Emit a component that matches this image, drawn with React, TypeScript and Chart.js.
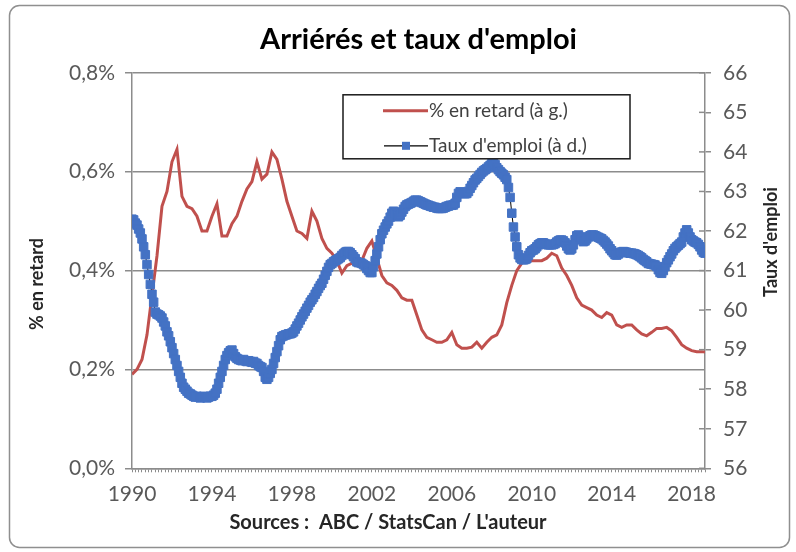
import React, { useEffect, useRef } from 'react';
import { Chart, registerables } from 'chart.js';

Chart.register(...registerables);

const FONT = "Lato, 'Liberation Sans', sans-serif";

const TITLE = "Arriérés et taux d'emploi";
const X_TITLE = "Sources :  ABC / StatsCan / L'auteur";
const LEFT_TITLE = '% en retard';
const RIGHT_TITLE = "Taux d'emploi";
const SERIES_RETARD = '% en retard (à g.)';
const SERIES_EMPLOI = "Taux d'emploi (à d.)";

const START_YEAR = 1990;
const END_YEAR = 2018;
const LAST_MONTH_INDEX = 8; // September 2018

const xLabelYears = [1990, 1994, 1998, 2002, 2006, 2010, 2014, 2018];
const leftTicks = [0, 0.2, 0.4, 0.6, 0.8];
const rightTicks = [56, 57, 58, 59, 60, 61, 62, 63, 64, 65, 66];

// % en retard, quarterly (Jan, Apr, Jul, Oct); last value = Sep 2018
const retardValues = [
  0.19, 0.2, 0.22, 0.27,
  0.35, 0.43, 0.53, 0.56,
  0.62, 0.645, 0.55, 0.53,
  0.525, 0.51, 0.48, 0.48,
  0.51, 0.535, 0.47, 0.47,
  0.495, 0.51, 0.54, 0.565,
  0.58, 0.62, 0.585, 0.595,
  0.64, 0.625, 0.585, 0.54,
  0.51, 0.48, 0.475, 0.465,
  0.52, 0.5, 0.465, 0.445,
  0.435, 0.42, 0.395, 0.41,
  0.415, 0.415, 0.42, 0.445,
  0.46, 0.425, 0.39, 0.375,
  0.37, 0.36, 0.345, 0.34,
  0.34, 0.31, 0.28, 0.265,
  0.26, 0.255, 0.255, 0.26,
  0.275, 0.25, 0.243, 0.243,
  0.245, 0.255, 0.243, 0.255,
  0.265, 0.27, 0.29, 0.335,
  0.37, 0.4, 0.415, 0.42,
  0.42, 0.42, 0.42, 0.425,
  0.435, 0.43, 0.405, 0.39,
  0.37, 0.345, 0.33, 0.325,
  0.32, 0.31, 0.305, 0.315,
  0.31, 0.29, 0.285, 0.29,
  0.29, 0.28, 0.272, 0.268,
  0.275, 0.283, 0.283, 0.285,
  0.278, 0.265, 0.25, 0.243,
  0.238, 0.236, 0.236, 0.235,
];

// Taux d'emploi, monthly (Jan 1990 .. Sep 2018)
const emploiValues = [
  62.3, 62.28, 62.2, 62.15, 62.05, 61.95, 61.8, 61.6, 61.4, 61.15, 60.9, 60.65,
  60.4, 60.2, 59.95, 59.9, 59.88, 59.85, 59.8, 59.7, 59.6, 59.45, 59.35, 59.2,
  59.05, 58.9, 58.75, 58.6, 58.45, 58.3, 58.15, 58.05, 58.0, 57.95, 57.9, 57.88,
  57.85, 57.82, 57.8, 57.82, 57.8, 57.78, 57.8, 57.82, 57.8, 57.78, 57.8, 57.82,
  57.82, 57.85, 57.9, 58.0, 58.15, 58.3, 58.45, 58.6, 58.75, 58.85, 58.92, 58.97,
  58.99, 58.9, 58.82, 58.78, 58.75, 58.74, 58.72, 58.75, 58.72, 58.7, 58.72, 58.7,
  58.68, 58.7, 58.66, 58.65, 58.6, 58.57, 58.55, 58.45, 58.3, 58.25, 58.3, 58.4,
  58.5, 58.65, 58.8, 58.95, 59.1, 59.25, 59.33, 59.35, 59.37, 59.38, 59.4, 59.4,
  59.42, 59.45, 59.52, 59.6, 59.67, 59.75, 59.83, 59.9, 59.97, 60.05, 60.12, 60.2,
  60.26, 60.32, 60.4, 60.47, 60.55, 60.62, 60.68, 60.78, 60.88, 60.98, 61.08, 61.15,
  61.18, 61.22, 61.25, 61.27, 61.3, 61.33, 61.38, 61.42, 61.46, 61.48, 61.48, 61.45,
  61.4, 61.35, 61.3, 61.22, 61.2, 61.2, 61.18, 61.15, 61.12, 61.05, 61.0, 60.95,
  60.95, 61.1, 61.25, 61.42, 61.6, 61.78, 61.93, 62.02, 62.1, 62.18, 62.25, 62.35,
  62.45, 62.5, 62.45, 62.4, 62.36, 62.4, 62.48, 62.55, 62.62, 62.66, 62.68, 62.7,
  62.72, 62.75, 62.78, 62.78, 62.76, 62.74, 62.72, 62.7, 62.68, 62.66, 62.65, 62.63,
  62.62, 62.6, 62.6, 62.58, 62.57, 62.57, 62.57, 62.58, 62.6, 62.62, 62.63, 62.65,
  62.65, 62.66, 62.7, 62.85, 62.95, 62.99, 62.97, 62.95, 62.94, 62.95, 63.0, 63.08,
  63.15, 63.22, 63.29, 63.33, 63.38, 63.43, 63.48, 63.52, 63.55, 63.58, 63.62, 63.66,
  63.7, 63.72, 63.68, 63.6, 63.55, 63.5, 63.46, 63.42, 63.36, 63.3, 63.1, 62.85,
  62.45, 62.1, 61.85, 61.6, 61.4, 61.32, 61.28, 61.27, 61.28, 61.3, 61.38, 61.45,
  61.5, 61.52, 61.55, 61.6, 61.65, 61.68, 61.7, 61.7, 61.68, 61.66, 61.65, 61.65,
  61.65, 61.66, 61.68, 61.72, 61.75, 61.77, 61.77, 61.75, 61.7, 61.62, 61.55, 61.52,
  61.55, 61.65, 61.78, 61.88, 61.9, 61.85, 61.78, 61.73, 61.75, 61.8, 61.85, 61.88,
  61.9, 61.9, 61.88, 61.86, 61.84, 61.82, 61.8, 61.76, 61.72, 61.67, 61.62, 61.55,
  61.5, 61.45, 61.4, 61.39, 61.42, 61.45, 61.47, 61.48, 61.47, 61.46, 61.45, 61.44,
  61.44, 61.43, 61.42, 61.4, 61.38, 61.35, 61.32, 61.28, 61.25, 61.22, 61.18, 61.17,
  61.16, 61.15, 61.14, 61.1, 61.02, 60.95, 60.93, 61.0, 61.1, 61.2, 61.27, 61.35,
  61.42, 61.5, 61.56, 61.6, 61.64, 61.68, 61.72, 61.85, 61.95, 62.03, 61.95, 61.85,
  61.78, 61.75, 61.72, 61.7, 61.66, 61.6, 61.52, 61.46, 61.44,
];

// Monthly date positions (decimal years)
const monthPositions: number[] = [];
for (let y = START_YEAR; y <= END_YEAR; y++) {
  for (let m = 0; m < 12; m++) {
    if (y === END_YEAR && m > LAST_MONTH_INDEX) break;
    monthPositions.push(y + m / 12);
  }
}
const retardPositions: number[] = [];
for (let i = 0; i < monthPositions.length; i += 3) retardPositions.push(monthPositions[i]);
retardPositions.push(monthPositions[monthPositions.length - 1]);

const X_MIN = START_YEAR;
const X_MAX = monthPositions[monthPositions.length - 1];

const RED = '#C0504D';
const BLUE = '#4472C4';
const GRID = '#8c8c8c';
const TICK_TEXT = '#595959';
const TITLE_TEXT = '#262626';

const framePlugin = {
  id: 'frame',
  beforeDraw(chart: any) {
    const ctx = chart.ctx;
    ctx.save();
    ctx.fillStyle = '#ffffff';
    ctx.fillRect(0, 0, chart.width, chart.height);
    ctx.strokeStyle = '#8f8f8f';
    ctx.lineWidth = 1.5;
    ctx.beginPath();
    ctx.roundRect(9.5, 5.5, 780, 542, 10);
    ctx.stroke();
    ctx.restore();
  },
};

const extrasPlugin = {
  id: 'extras',
  afterDraw(chart: any) {
    const ctx = chart.ctx;
    const area = chart.chartArea;
    const y1 = chart.scales.y1;
    ctx.save();
    // inner half of the crossing ticks on the right axis
    ctx.strokeStyle = GRID;
    ctx.lineWidth = 1.5;
    rightTicks.forEach((v) => {
      const py = y1.getPixelForValue(v);
      ctx.beginPath();
      ctx.moveTo(area.right - 6, py);
      ctx.lineTo(area.right, py);
      ctx.stroke();
    });
    ctx.fillStyle = TITLE_TEXT;
    ctx.font = `bold 18px ${FONT}`;
    ctx.textAlign = 'center';
    ctx.textBaseline = 'middle';
    // left axis title
    ctx.save();
    ctx.translate(37, 284);
    ctx.rotate(-Math.PI / 2);
    ctx.fillText(LEFT_TITLE, 0, 0);
    ctx.restore();
    // right axis title
    ctx.save();
    ctx.translate(771, 242);
    ctx.rotate(-Math.PI / 2);
    ctx.fillText(RIGHT_TITLE, 0, 0);
    ctx.restore();
    // x axis title (sources)
    ctx.font = `bold 20px ${FONT}`;
    ctx.fillText(X_TITLE, 388, 523);
    ctx.restore();

    // legend box
    ctx.save();
    const lx = area.left + 211;
    const ly = area.top + 22;
    const lw = 287;
    const lh = 64;
    ctx.fillStyle = '#ffffff';
    ctx.fillRect(lx, ly, lw, lh);
    ctx.strokeStyle = '#1a1a1a';
    ctx.lineWidth = 1.5;
    ctx.strokeRect(lx, ly, lw, lh);
    const row1 = ly + 16;
    const row2 = ly + 51;
    ctx.strokeStyle = RED;
    ctx.lineWidth = 3;
    ctx.beginPath();
    ctx.moveTo(lx + 40, row1);
    ctx.lineTo(lx + 85, row1);
    ctx.stroke();
    ctx.strokeStyle = '#000000';
    ctx.lineWidth = 1.2;
    ctx.beginPath();
    ctx.moveTo(lx + 41, row2);
    ctx.lineTo(lx + 85, row2);
    ctx.stroke();
    ctx.fillStyle = BLUE;
    ctx.fillRect(lx + 59, row2 - 4, 8, 8);
    ctx.fillStyle = '#404040';
    ctx.font = `19px ${FONT}`;
    ctx.textAlign = 'left';
    ctx.textBaseline = 'middle';
    ctx.fillText(SERIES_RETARD, lx + 86, row1);
    ctx.fillText(SERIES_EMPLOI, lx + 86, row2);
    ctx.restore();
  },
};

export default function App() {
  const ref = useRef<HTMLCanvasElement | null>(null);

  useEffect(() => {
    if (!ref.current) return;
    const chart = new Chart(ref.current, {
      type: 'line',
      data: {
        datasets: [
          {
            label: SERIES_EMPLOI,
            data: emploiValues.map((v, i) => ({ x: monthPositions[i], y: v })),
            yAxisID: 'y1',
            borderColor: '#000000',
            borderWidth: 1,
            pointStyle: 'rect',
            pointRadius: 6,
            pointBackgroundColor: BLUE,
            pointBorderColor: BLUE,
            pointBorderWidth: 1,
            order: 0,
          },
          {
            label: SERIES_RETARD,
            data: retardValues.map((v, i) => ({ x: retardPositions[i], y: v })),
            yAxisID: 'y',
            borderColor: RED,
            borderWidth: 3,
            pointRadius: 0,
            order: 1,
          },
        ],
      },
      options: {
        animation: false,
        responsive: false,
        maintainAspectRatio: false,
        layout: { padding: 0 },
        plugins: {
          legend: { display: false },
          tooltip: { enabled: false },
          title: {
            display: true,
            text: TITLE,
            fullSize: false,
            color: '#000000',
            font: { family: FONT, size: 29, weight: 'bold' },
            padding: { top: 22.6, bottom: 15.4 },
          },
        },
        scales: {
          x: {
            type: 'linear',
            min: X_MIN,
            max: X_MAX,
            afterBuildTicks: (scale: any) => {
              const t: any[] = [];
              for (let i = 0; START_YEAR + i / 6 <= X_MAX + 1e-9; i++) t.push({ value: START_YEAR + i / 6 });
              scale.ticks = t;
            },
            afterFit: (scale: any) => {
              scale.height = 83.7;
            },
            ticks: {
              autoSkip: false,
              maxRotation: 0,
              padding: 9,
              color: TICK_TEXT,
              font: { family: FONT, size: 21 },
              callback: (v: any) => {
                const r = Math.round(v);
                return Math.abs(v - r) < 1e-6 && xLabelYears.includes(r) ? String(r) : '';
              },
            },
            grid: { drawOnChartArea: false, drawTicks: true, tickLength: 4, color: GRID, lineWidth: 1 },
            border: { display: true, color: GRID, width: 1.5 },
          },
          y: {
            type: 'linear',
            position: 'left',
            min: 0,
            max: 0.8,
            afterBuildTicks: (scale: any) => {
              scale.ticks = leftTicks.map((v) => ({ value: v }));
            },
            afterFit: (scale: any) => {
              scale.width = 132;
            },
            ticks: {
              padding: 10,
              color: TICK_TEXT,
              font: { family: FONT, size: 21 },
              callback: (v: any) => Number(v).toFixed(1).replace('.', ',') + '%',
            },
            grid: { color: GRID, lineWidth: 1.5, tickLength: 7 },
            border: { display: true, color: GRID, width: 1.5 },
          },
          y1: {
            type: 'linear',
            position: 'right',
            min: 56,
            max: 66,
            afterBuildTicks: (scale: any) => {
              scale.ticks = rightTicks.map((v) => ({ value: v }));
            },
            afterFit: (scale: any) => {
              scale.width = 91;
            },
            ticks: {
              padding: 12,
              color: TICK_TEXT,
              font: { family: FONT, size: 21 },
            },
            grid: { drawOnChartArea: false, color: GRID, lineWidth: 1.5, tickLength: 6 },
            border: { display: true, color: GRID, width: 1.5 },
          },
        },
      },
      plugins: [framePlugin, extrasPlugin],
    } as any);
    return () => chart.destroy();
  }, []);

  return (
    <div style={{ position: 'absolute', left: 0, top: 0, width: 796, height: 552 }}>
      <canvas ref={ref} width={796} height={552} style={{ width: 796, height: 552, display: 'block' }} />
    </div>
  );
}
